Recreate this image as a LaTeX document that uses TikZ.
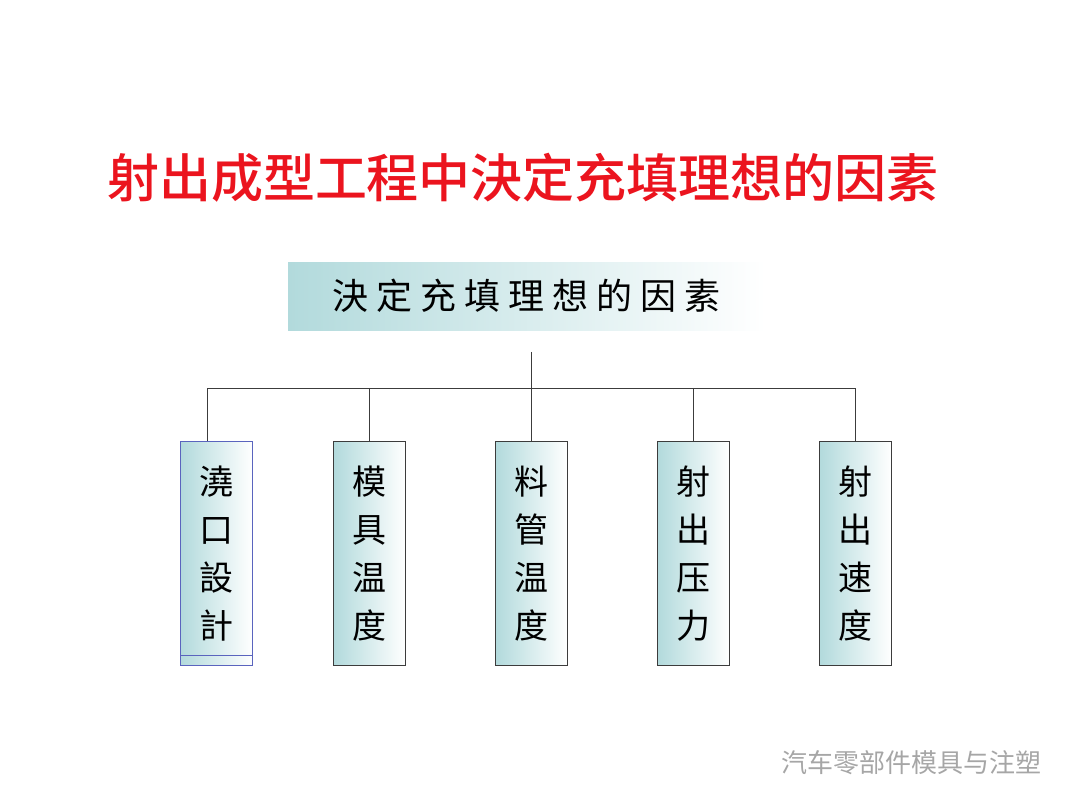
\documentclass[tikz,border=0pt]{standalone}
\usepackage{fontspec}
\newfontfamily\cjk{Noto Sans CJK SC}
\newfontfamily\cjkm{Noto Sans CJK SC Medium}
\definecolor{teal0}{RGB}{178,218,220}
\definecolor{tred}{RGB}{235,20,30}
\definecolor{edge}{RGB}{60,60,60}
\definecolor{bedge}{RGB}{90,100,190}
\tikzset{
 vbox/.style={draw=edge,line width=1pt,left color=teal0,right color=white,shading angle=90,minimum width=72pt,minimum height=224pt,inner sep=0pt,anchor=north west,align=center,font=\cjk\fontsize{34}{48}\selectfont},
 link/.style={draw=edge,line width=0.9pt}
}
\begin{document}
\begin{tikzpicture}[x=1pt,y=-1pt]
\useasboundingbox (0,0) rectangle (1080,810);
\node (title) [font=\cjkm\fontsize{52}{56}\selectfont,text=tred] at (523,178) {射出成型工程中決定充填理想的因素};
\node (top) [left color=teal0,right color=white,minimum width=477pt,minimum height=68pt,anchor=north west,font=\cjk\fontsize{36}{40}\selectfont] at (288,262) {決\hspace{8pt}定\hspace{8pt}充\hspace{8pt}填\hspace{8pt}理\hspace{8pt}想\hspace{8pt}的\hspace{8pt}因\hspace{8pt}素};
\node (b1) [vbox,draw=bedge] at (180,441) {澆\\口\\設\\計};
\node (b2) [vbox] at (333,441) {模\\具\\温\\度};
\node (b3) [vbox] at (495,441) {料\\管\\温\\度};
\node (b4) [vbox] at (657,441) {射\\出\\压\\力};
\node (b5) [vbox] at (819,441) {射\\出\\速\\度};
\draw[bedge,line width=1pt] (180,655) -- (252,655);
\coordinate (hub) at (531,352);
\coordinate (bar) at (531,388);
\draw[link] (hub) -- (bar);
\draw[link] (207,441) |- (855,388) -- (855,441);
\draw[link] (369,388) -- (369,441);
\draw[link] (531,388) -- (531,441);
\draw[link] (693,388) -- (693,441);
\node (wm) [font=\cjk\fontsize{26}{28}\selectfont,text=gray!70,anchor=east] at (1045,763) {汽车零部件模具与注塑};
\end{tikzpicture}
\end{document}
